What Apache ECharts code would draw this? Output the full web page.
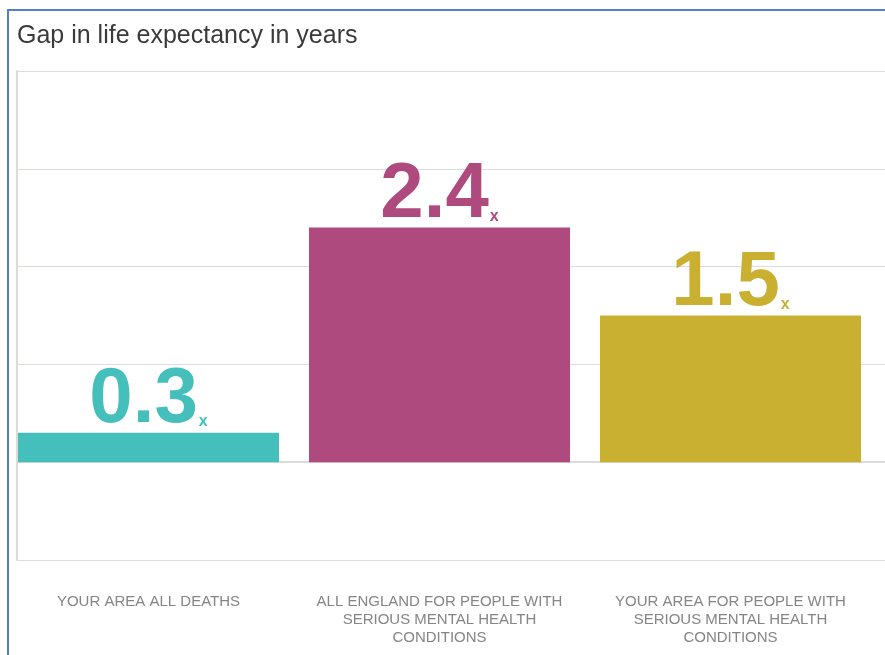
<!DOCTYPE html>
<html>
<head>
<meta charset="utf-8">
<script src="https://cdn.jsdelivr.net/npm/echarts@6/dist/echarts.min.js"></script>
<style>
  html, body { margin: 0; padding: 0; background: #fff; }
  #wrap { position: relative; width: 885px; height: 655px; overflow: hidden; }
  #chart { position: absolute; left: 0; top: 0; width: 885px; height: 655px; }
  #frame { position: absolute; left: 7px; top: 9px; width: 900px; height: 700px;
           border-left: 2px solid #4f80c8; border-top: 2px solid #4f80c8; pointer-events: none; }
</style>
</head>
<body>
<div id="wrap">
  <div id="chart"></div>
  <div id="frame"></div>
</div>
<script>
// Gap in life expectancy, in years
const categories = [
  'YOUR AREA ALL DEATHS',
  'ALL ENGLAND FOR PEOPLE WITH\nSERIOUS MENTAL HEALTH\nCONDITIONS',
  'YOUR AREA FOR PEOPLE WITH\nSERIOUS MENTAL HEALTH\nCONDITIONS'
];
const gapYears = [0.3, 2.4, 1.5];
const barColors = ['#45bfbc', '#af4a7e', '#cab031'];

const yMin = -1, yMax = 4, yStep = 1;

const chart = echarts.init(document.getElementById('chart'), null, { renderer: 'canvas' });

const barData = gapYears.map((v, i) => ({
  value: v,
  itemStyle: { color: barColors[i] },
  label: {
    rich: {
      v: { color: barColors[i] },
      x: { color: barColors[i] }
    }
  }
}));

chart.setOption({
  animation: false,
  title: {
    text: 'Gap in life expectancy in years',
    left: 12,
    top: 19,
    textStyle: { fontFamily: 'Liberation Sans', fontWeight: 'normal', fontSize: 25, color: '#3a3a3a' }
  },
  grid: [
    // bars
    { left: 3, right: 9, top: 71, bottom: 95 },
    // plot frame and gridlines
    { left: 17, right: -20, top: 71, bottom: 95 }
  ],
  xAxis: [
    {
      type: 'category',
      gridIndex: 0,
      data: categories,
      axisLine: { show: false },
      axisTick: { show: false },
      axisLabel: {
        margin: 33,
        interval: 0,
        fontFamily: 'Liberation Sans',
        fontSize: 15,
        lineHeight: 18,
        color: '#858585'
      }
    },
    {
      type: 'value',
      gridIndex: 1,
      min: 0, max: 1,
      axisLine: { show: true, lineStyle: { color: '#dcdcd8', width: 2 } },
      axisTick: { show: false },
      axisLabel: { show: false },
      splitLine: { show: false }
    }
  ],
  yAxis: [
    {
      type: 'value',
      gridIndex: 0,
      min: yMin, max: yMax, interval: yStep,
      show: false,
      splitLine: { show: false }
    },
    {
      type: 'value',
      gridIndex: 1,
      min: yMin, max: yMax, interval: yStep,
      axisLine: { show: true, onZero: false, lineStyle: { color: '#dcdcd8', width: 2 } },
      axisTick: { show: false },
      axisLabel: { show: false },
      splitLine: { show: true, lineStyle: { color: '#dcdcd8', width: 1 } }
    }
  ],
  series: [
    {
      type: 'bar',
      xAxisIndex: 0,
      yAxisIndex: 0,
      barWidth: 261,
      data: barData,
      label: {
        show: true,
        position: 'top',
        distance: 0,
        formatter: p => '{v|' + p.value.toFixed(1) + '}{x|x}',
        rich: {
          v: { fontFamily: 'Liberation Sans', fontWeight: 'bold', fontSize: 78, lineHeight: 64 },
          x: { fontFamily: 'Liberation Sans', fontWeight: 'bold', fontSize: 16, lineHeight: 16, verticalAlign: 'bottom', padding: [0, 0, 3, 1] }
        }
      }
    }
  ]
});
</script>
</body>
</html>
